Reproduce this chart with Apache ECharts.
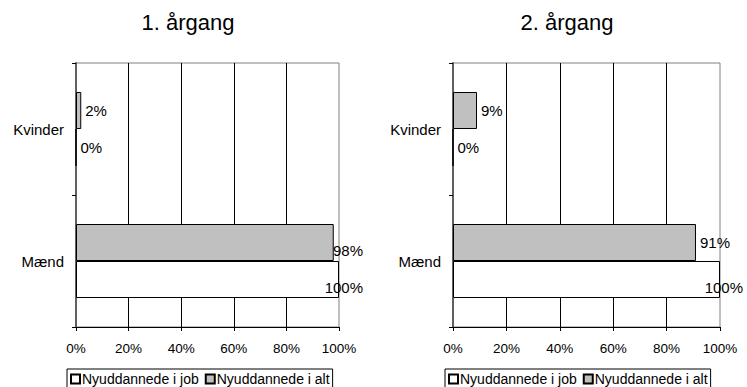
<!DOCTYPE html>
<html>
<head>
<meta charset="utf-8">
<script src="https://cdn.jsdelivr.net/npm/echarts@6/dist/echarts.min.js"></script>
<style>
  html, body { margin: 0; padding: 0; background: #fff; }
  #chart { width: 747px; height: 387px; }
</style>
</head>
<body>
<div id="chart"></div>
<script>
// Categories, bottom to top on the y axis
const categories = ['Mænd', 'Kvinder'];
const panelTitles = ['1. årgang', '2. årgang'];
const seriesNames = ['Nyuddannede i job', 'Nyuddannede i alt'];

// Share (%) per panel, in category order
const jobYear1 = [100, 0];
const altYear1 = [98, 2];
const jobYear2 = [100, 0];
const altYear2 = [91, 9];

const xTicks = { min: 0, max: 100, interval: 20 };

const FONT = 'Liberation Sans, Arial, sans-serif';

// panel layout: plot rectangles and the right edge labels may not pass
const panels = [
  { grid: { left: 76, right: 408, top: 63, bottom: 60 }, center: 183, legendLeft: 67, labelLimit: 363 },
  { grid: { left: 453, right: 27, top: 63, bottom: 60 }, center: 562, legendLeft: 445, labelLimit: 743 }
];

const panelData = [
  { 'Nyuddannede i job': jobYear1, 'Nyuddannede i alt': altYear1 },
  { 'Nyuddannede i job': jobYear2, 'Nyuddannede i alt': altYear2 }
];
const fills = { 'Nyuddannede i job': '#ffffff', 'Nyuddannede i alt': '#c0c0c0' };
// the first series in a group is drawn uppermost, so "i alt" goes first
const drawOrder = ['Nyuddannede i alt', 'Nyuddannede i job'];

const grids = [], xAxes = [], yAxes = [], series = [], legends = [], titles = [];

panels.forEach((p, i) => {
  grids.push(Object.assign({
    show: true, borderColor: '#808080', borderWidth: 1, backgroundColor: '#fff'
  }, p.grid));

  xAxes.push({
    type: 'value', gridIndex: i,
    min: xTicks.min, max: xTicks.max, interval: xTicks.interval,
    axisLine: { show: true, lineStyle: { color: '#000', width: 1 } },
    axisTick: { show: true, length: 4, lineStyle: { color: '#000' } },
    axisLabel: { formatter: '{value}%', fontFamily: FONT, fontSize: 13.5, color: '#000', margin: 14 },
    splitLine: { show: true, showMaxLine: false, lineStyle: { color: '#000', width: 1 } }
  });

  yAxes.push({
    type: 'category', gridIndex: i, data: categories,
    axisLine: { show: true, lineStyle: { color: '#606060', width: 2 } },
    axisTick: { show: true, length: 4, lineStyle: { color: '#000' } },
    axisLabel: { fontFamily: FONT, fontSize: 15, color: '#000', margin: 12 },
    splitLine: { show: false }
  });

  drawOrder.forEach((name) => {
    series.push({
      type: 'bar', name: name,
      xAxisIndex: i, yAxisIndex: i,
      data: panelData[i][name],
      barWidth: 37, barGap: '0%',
      itemStyle: { color: fills[name], borderColor: '#000', borderWidth: 1 },
      label: {
        show: true, position: 'right', distance: 4,
        formatter: '{c}%', fontFamily: FONT, fontSize: 15, color: '#000'
      },
      labelLayout: (params) => {
        const r = params.labelRect;
        if (r.x + r.width > p.labelLimit) return { x: p.labelLimit - r.width };
        return {};
      },
      emphasis: { disabled: true },
      animation: false
    });
  });

  legends.push({
    data: seriesNames,
    left: p.legendLeft, top: 369,
    orient: 'horizontal',
    borderColor: '#000', borderWidth: 1,
    padding: [3, 3, 4, 3],
    itemWidth: 9, itemHeight: 9, itemGap: 6,
    icon: 'rect',
    textStyle: { fontFamily: FONT, fontSize: 14, color: '#000', padding: [0, 0, 0, -3] },
    selectedMode: false
  });

  titles.push({
    text: panelTitles[i],
    left: p.center, top: 6,
    textAlign: 'center',
    textStyle: { fontFamily: FONT, fontSize: 22, fontWeight: 'normal', color: '#000' }
  });
});

const chart = echarts.init(document.getElementById('chart'), null, { renderer: 'svg' });
chart.setOption({
  backgroundColor: '#fff',
  animation: false,
  title: titles,
  legend: legends,
  grid: grids,
  xAxis: xAxes,
  yAxis: yAxes,
  series: series
});
</script>
</body>
</html>
